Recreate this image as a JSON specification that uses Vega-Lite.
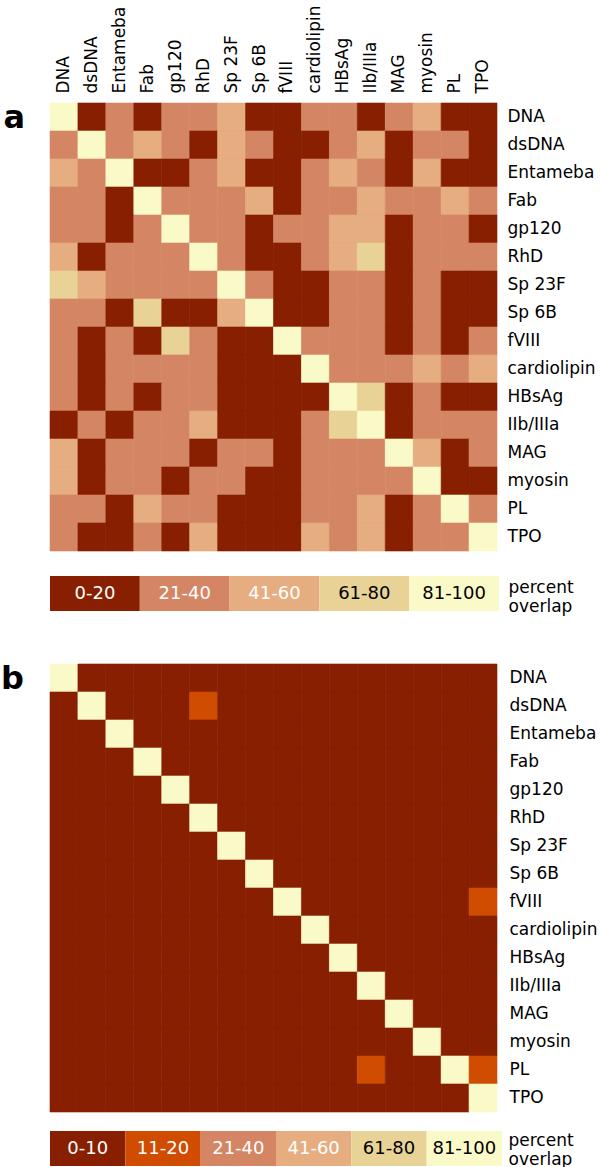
{
"$schema": "https://vega.github.io/schema/vega-lite/v6.json",
"background": "white",
"padding": {"left": 0, "top": 4, "right": 0, "bottom": 0},
"config": {"view": {"stroke": null}, "font": "DejaVu Sans", "axis": {"labelFont": "DejaVu Sans", "labelColor": "black"}},
"resolve": {"scale": {"color": "independent", "stroke": "independent"}},
"datasets": {
"a": [
{"r":"DNA","c":"DNA","p":"81-100"},{"r":"DNA","c":"dsDNA","p":"0-20"},{"r":"DNA","c":"Entameba","p":"21-40"},{"r":"DNA","c":"Fab","p":"0-20"},{"r":"DNA","c":"gp120","p":"21-40"},{"r":"DNA","c":"RhD","p":"21-40"},{"r":"DNA","c":"Sp 23F","p":"41-60"},{"r":"DNA","c":"Sp 6B","p":"0-20"},{"r":"DNA","c":"fVIII","p":"0-20"},{"r":"DNA","c":"cardiolipin","p":"21-40"},{"r":"DNA","c":"HBsAg","p":"21-40"},{"r":"DNA","c":"IIb/IIIa","p":"0-20"},{"r":"DNA","c":"MAG","p":"21-40"},{"r":"DNA","c":"myosin","p":"41-60"},{"r":"DNA","c":"PL","p":"0-20"},{"r":"DNA","c":"TPO","p":"0-20"},
{"r":"dsDNA","c":"DNA","p":"21-40"},{"r":"dsDNA","c":"dsDNA","p":"81-100"},{"r":"dsDNA","c":"Entameba","p":"21-40"},{"r":"dsDNA","c":"Fab","p":"41-60"},{"r":"dsDNA","c":"gp120","p":"21-40"},{"r":"dsDNA","c":"RhD","p":"0-20"},{"r":"dsDNA","c":"Sp 23F","p":"41-60"},{"r":"dsDNA","c":"Sp 6B","p":"21-40"},{"r":"dsDNA","c":"fVIII","p":"0-20"},{"r":"dsDNA","c":"cardiolipin","p":"0-20"},{"r":"dsDNA","c":"HBsAg","p":"21-40"},{"r":"dsDNA","c":"IIb/IIIa","p":"41-60"},{"r":"dsDNA","c":"MAG","p":"0-20"},{"r":"dsDNA","c":"myosin","p":"21-40"},{"r":"dsDNA","c":"PL","p":"21-40"},{"r":"dsDNA","c":"TPO","p":"0-20"},
{"r":"Entameba","c":"DNA","p":"41-60"},{"r":"Entameba","c":"dsDNA","p":"21-40"},{"r":"Entameba","c":"Entameba","p":"81-100"},{"r":"Entameba","c":"Fab","p":"0-20"},{"r":"Entameba","c":"gp120","p":"0-20"},{"r":"Entameba","c":"RhD","p":"21-40"},{"r":"Entameba","c":"Sp 23F","p":"41-60"},{"r":"Entameba","c":"Sp 6B","p":"0-20"},{"r":"Entameba","c":"fVIII","p":"0-20"},{"r":"Entameba","c":"cardiolipin","p":"21-40"},{"r":"Entameba","c":"HBsAg","p":"41-60"},{"r":"Entameba","c":"IIb/IIIa","p":"21-40"},{"r":"Entameba","c":"MAG","p":"0-20"},{"r":"Entameba","c":"myosin","p":"41-60"},{"r":"Entameba","c":"PL","p":"0-20"},{"r":"Entameba","c":"TPO","p":"0-20"},
{"r":"Fab","c":"DNA","p":"21-40"},{"r":"Fab","c":"dsDNA","p":"21-40"},{"r":"Fab","c":"Entameba","p":"0-20"},{"r":"Fab","c":"Fab","p":"81-100"},{"r":"Fab","c":"gp120","p":"21-40"},{"r":"Fab","c":"RhD","p":"21-40"},{"r":"Fab","c":"Sp 23F","p":"21-40"},{"r":"Fab","c":"Sp 6B","p":"41-60"},{"r":"Fab","c":"fVIII","p":"0-20"},{"r":"Fab","c":"cardiolipin","p":"21-40"},{"r":"Fab","c":"HBsAg","p":"21-40"},{"r":"Fab","c":"IIb/IIIa","p":"41-60"},{"r":"Fab","c":"MAG","p":"21-40"},{"r":"Fab","c":"myosin","p":"21-40"},{"r":"Fab","c":"PL","p":"41-60"},{"r":"Fab","c":"TPO","p":"21-40"},
{"r":"gp120","c":"DNA","p":"21-40"},{"r":"gp120","c":"dsDNA","p":"21-40"},{"r":"gp120","c":"Entameba","p":"0-20"},{"r":"gp120","c":"Fab","p":"21-40"},{"r":"gp120","c":"gp120","p":"81-100"},{"r":"gp120","c":"RhD","p":"21-40"},{"r":"gp120","c":"Sp 23F","p":"21-40"},{"r":"gp120","c":"Sp 6B","p":"0-20"},{"r":"gp120","c":"fVIII","p":"21-40"},{"r":"gp120","c":"cardiolipin","p":"21-40"},{"r":"gp120","c":"HBsAg","p":"41-60"},{"r":"gp120","c":"IIb/IIIa","p":"41-60"},{"r":"gp120","c":"MAG","p":"0-20"},{"r":"gp120","c":"myosin","p":"21-40"},{"r":"gp120","c":"PL","p":"21-40"},{"r":"gp120","c":"TPO","p":"0-20"},
{"r":"RhD","c":"DNA","p":"41-60"},{"r":"RhD","c":"dsDNA","p":"0-20"},{"r":"RhD","c":"Entameba","p":"21-40"},{"r":"RhD","c":"Fab","p":"21-40"},{"r":"RhD","c":"gp120","p":"21-40"},{"r":"RhD","c":"RhD","p":"81-100"},{"r":"RhD","c":"Sp 23F","p":"21-40"},{"r":"RhD","c":"Sp 6B","p":"0-20"},{"r":"RhD","c":"fVIII","p":"0-20"},{"r":"RhD","c":"cardiolipin","p":"21-40"},{"r":"RhD","c":"HBsAg","p":"41-60"},{"r":"RhD","c":"IIb/IIIa","p":"61-80"},{"r":"RhD","c":"MAG","p":"0-20"},{"r":"RhD","c":"myosin","p":"21-40"},{"r":"RhD","c":"PL","p":"21-40"},{"r":"RhD","c":"TPO","p":"21-40"},
{"r":"Sp 23F","c":"DNA","p":"61-80"},{"r":"Sp 23F","c":"dsDNA","p":"41-60"},{"r":"Sp 23F","c":"Entameba","p":"21-40"},{"r":"Sp 23F","c":"Fab","p":"21-40"},{"r":"Sp 23F","c":"gp120","p":"21-40"},{"r":"Sp 23F","c":"RhD","p":"21-40"},{"r":"Sp 23F","c":"Sp 23F","p":"81-100"},{"r":"Sp 23F","c":"Sp 6B","p":"21-40"},{"r":"Sp 23F","c":"fVIII","p":"0-20"},{"r":"Sp 23F","c":"cardiolipin","p":"0-20"},{"r":"Sp 23F","c":"HBsAg","p":"21-40"},{"r":"Sp 23F","c":"IIb/IIIa","p":"21-40"},{"r":"Sp 23F","c":"MAG","p":"0-20"},{"r":"Sp 23F","c":"myosin","p":"21-40"},{"r":"Sp 23F","c":"PL","p":"0-20"},{"r":"Sp 23F","c":"TPO","p":"0-20"},
{"r":"Sp 6B","c":"DNA","p":"21-40"},{"r":"Sp 6B","c":"dsDNA","p":"21-40"},{"r":"Sp 6B","c":"Entameba","p":"0-20"},{"r":"Sp 6B","c":"Fab","p":"61-80"},{"r":"Sp 6B","c":"gp120","p":"0-20"},{"r":"Sp 6B","c":"RhD","p":"0-20"},{"r":"Sp 6B","c":"Sp 23F","p":"41-60"},{"r":"Sp 6B","c":"Sp 6B","p":"81-100"},{"r":"Sp 6B","c":"fVIII","p":"0-20"},{"r":"Sp 6B","c":"cardiolipin","p":"0-20"},{"r":"Sp 6B","c":"HBsAg","p":"21-40"},{"r":"Sp 6B","c":"IIb/IIIa","p":"21-40"},{"r":"Sp 6B","c":"MAG","p":"0-20"},{"r":"Sp 6B","c":"myosin","p":"21-40"},{"r":"Sp 6B","c":"PL","p":"0-20"},{"r":"Sp 6B","c":"TPO","p":"0-20"},
{"r":"fVIII","c":"DNA","p":"21-40"},{"r":"fVIII","c":"dsDNA","p":"0-20"},{"r":"fVIII","c":"Entameba","p":"21-40"},{"r":"fVIII","c":"Fab","p":"0-20"},{"r":"fVIII","c":"gp120","p":"61-80"},{"r":"fVIII","c":"RhD","p":"21-40"},{"r":"fVIII","c":"Sp 23F","p":"0-20"},{"r":"fVIII","c":"Sp 6B","p":"0-20"},{"r":"fVIII","c":"fVIII","p":"81-100"},{"r":"fVIII","c":"cardiolipin","p":"21-40"},{"r":"fVIII","c":"HBsAg","p":"21-40"},{"r":"fVIII","c":"IIb/IIIa","p":"21-40"},{"r":"fVIII","c":"MAG","p":"0-20"},{"r":"fVIII","c":"myosin","p":"21-40"},{"r":"fVIII","c":"PL","p":"0-20"},{"r":"fVIII","c":"TPO","p":"21-40"},
{"r":"cardiolipin","c":"DNA","p":"21-40"},{"r":"cardiolipin","c":"dsDNA","p":"0-20"},{"r":"cardiolipin","c":"Entameba","p":"21-40"},{"r":"cardiolipin","c":"Fab","p":"21-40"},{"r":"cardiolipin","c":"gp120","p":"21-40"},{"r":"cardiolipin","c":"RhD","p":"21-40"},{"r":"cardiolipin","c":"Sp 23F","p":"0-20"},{"r":"cardiolipin","c":"Sp 6B","p":"0-20"},{"r":"cardiolipin","c":"fVIII","p":"0-20"},{"r":"cardiolipin","c":"cardiolipin","p":"81-100"},{"r":"cardiolipin","c":"HBsAg","p":"21-40"},{"r":"cardiolipin","c":"IIb/IIIa","p":"21-40"},{"r":"cardiolipin","c":"MAG","p":"21-40"},{"r":"cardiolipin","c":"myosin","p":"41-60"},{"r":"cardiolipin","c":"PL","p":"21-40"},{"r":"cardiolipin","c":"TPO","p":"41-60"},
{"r":"HBsAg","c":"DNA","p":"21-40"},{"r":"HBsAg","c":"dsDNA","p":"0-20"},{"r":"HBsAg","c":"Entameba","p":"21-40"},{"r":"HBsAg","c":"Fab","p":"0-20"},{"r":"HBsAg","c":"gp120","p":"21-40"},{"r":"HBsAg","c":"RhD","p":"21-40"},{"r":"HBsAg","c":"Sp 23F","p":"0-20"},{"r":"HBsAg","c":"Sp 6B","p":"0-20"},{"r":"HBsAg","c":"fVIII","p":"0-20"},{"r":"HBsAg","c":"cardiolipin","p":"0-20"},{"r":"HBsAg","c":"HBsAg","p":"81-100"},{"r":"HBsAg","c":"IIb/IIIa","p":"61-80"},{"r":"HBsAg","c":"MAG","p":"0-20"},{"r":"HBsAg","c":"myosin","p":"21-40"},{"r":"HBsAg","c":"PL","p":"0-20"},{"r":"HBsAg","c":"TPO","p":"0-20"},
{"r":"IIb/IIIa","c":"DNA","p":"0-20"},{"r":"IIb/IIIa","c":"dsDNA","p":"21-40"},{"r":"IIb/IIIa","c":"Entameba","p":"0-20"},{"r":"IIb/IIIa","c":"Fab","p":"21-40"},{"r":"IIb/IIIa","c":"gp120","p":"21-40"},{"r":"IIb/IIIa","c":"RhD","p":"41-60"},{"r":"IIb/IIIa","c":"Sp 23F","p":"0-20"},{"r":"IIb/IIIa","c":"Sp 6B","p":"0-20"},{"r":"IIb/IIIa","c":"fVIII","p":"0-20"},{"r":"IIb/IIIa","c":"cardiolipin","p":"21-40"},{"r":"IIb/IIIa","c":"HBsAg","p":"61-80"},{"r":"IIb/IIIa","c":"IIb/IIIa","p":"81-100"},{"r":"IIb/IIIa","c":"MAG","p":"0-20"},{"r":"IIb/IIIa","c":"myosin","p":"21-40"},{"r":"IIb/IIIa","c":"PL","p":"21-40"},{"r":"IIb/IIIa","c":"TPO","p":"21-40"},
{"r":"MAG","c":"DNA","p":"41-60"},{"r":"MAG","c":"dsDNA","p":"0-20"},{"r":"MAG","c":"Entameba","p":"21-40"},{"r":"MAG","c":"Fab","p":"21-40"},{"r":"MAG","c":"gp120","p":"21-40"},{"r":"MAG","c":"RhD","p":"0-20"},{"r":"MAG","c":"Sp 23F","p":"21-40"},{"r":"MAG","c":"Sp 6B","p":"21-40"},{"r":"MAG","c":"fVIII","p":"0-20"},{"r":"MAG","c":"cardiolipin","p":"21-40"},{"r":"MAG","c":"HBsAg","p":"21-40"},{"r":"MAG","c":"IIb/IIIa","p":"21-40"},{"r":"MAG","c":"MAG","p":"81-100"},{"r":"MAG","c":"myosin","p":"41-60"},{"r":"MAG","c":"PL","p":"0-20"},{"r":"MAG","c":"TPO","p":"21-40"},
{"r":"myosin","c":"DNA","p":"41-60"},{"r":"myosin","c":"dsDNA","p":"0-20"},{"r":"myosin","c":"Entameba","p":"21-40"},{"r":"myosin","c":"Fab","p":"21-40"},{"r":"myosin","c":"gp120","p":"0-20"},{"r":"myosin","c":"RhD","p":"21-40"},{"r":"myosin","c":"Sp 23F","p":"21-40"},{"r":"myosin","c":"Sp 6B","p":"0-20"},{"r":"myosin","c":"fVIII","p":"0-20"},{"r":"myosin","c":"cardiolipin","p":"21-40"},{"r":"myosin","c":"HBsAg","p":"21-40"},{"r":"myosin","c":"IIb/IIIa","p":"21-40"},{"r":"myosin","c":"MAG","p":"21-40"},{"r":"myosin","c":"myosin","p":"81-100"},{"r":"myosin","c":"PL","p":"0-20"},{"r":"myosin","c":"TPO","p":"0-20"},
{"r":"PL","c":"DNA","p":"21-40"},{"r":"PL","c":"dsDNA","p":"21-40"},{"r":"PL","c":"Entameba","p":"0-20"},{"r":"PL","c":"Fab","p":"41-60"},{"r":"PL","c":"gp120","p":"21-40"},{"r":"PL","c":"RhD","p":"21-40"},{"r":"PL","c":"Sp 23F","p":"0-20"},{"r":"PL","c":"Sp 6B","p":"0-20"},{"r":"PL","c":"fVIII","p":"0-20"},{"r":"PL","c":"cardiolipin","p":"21-40"},{"r":"PL","c":"HBsAg","p":"21-40"},{"r":"PL","c":"IIb/IIIa","p":"41-60"},{"r":"PL","c":"MAG","p":"0-20"},{"r":"PL","c":"myosin","p":"21-40"},{"r":"PL","c":"PL","p":"81-100"},{"r":"PL","c":"TPO","p":"21-40"},
{"r":"TPO","c":"DNA","p":"21-40"},{"r":"TPO","c":"dsDNA","p":"0-20"},{"r":"TPO","c":"Entameba","p":"0-20"},{"r":"TPO","c":"Fab","p":"21-40"},{"r":"TPO","c":"gp120","p":"0-20"},{"r":"TPO","c":"RhD","p":"41-60"},{"r":"TPO","c":"Sp 23F","p":"0-20"},{"r":"TPO","c":"Sp 6B","p":"0-20"},{"r":"TPO","c":"fVIII","p":"0-20"},{"r":"TPO","c":"cardiolipin","p":"41-60"},{"r":"TPO","c":"HBsAg","p":"21-40"},{"r":"TPO","c":"IIb/IIIa","p":"41-60"},{"r":"TPO","c":"MAG","p":"0-20"},{"r":"TPO","c":"myosin","p":"21-40"},{"r":"TPO","c":"PL","p":"21-40"},{"r":"TPO","c":"TPO","p":"81-100"}
],
"b": [
{"r":"DNA","c":"DNA","p":"81-100"},{"r":"DNA","c":"dsDNA","p":"0-10"},{"r":"DNA","c":"Entameba","p":"0-10"},{"r":"DNA","c":"Fab","p":"0-10"},{"r":"DNA","c":"gp120","p":"0-10"},{"r":"DNA","c":"RhD","p":"0-10"},{"r":"DNA","c":"Sp 23F","p":"0-10"},{"r":"DNA","c":"Sp 6B","p":"0-10"},{"r":"DNA","c":"fVIII","p":"0-10"},{"r":"DNA","c":"cardiolipin","p":"0-10"},{"r":"DNA","c":"HBsAg","p":"0-10"},{"r":"DNA","c":"IIb/IIIa","p":"0-10"},{"r":"DNA","c":"MAG","p":"0-10"},{"r":"DNA","c":"myosin","p":"0-10"},{"r":"DNA","c":"PL","p":"0-10"},{"r":"DNA","c":"TPO","p":"0-10"},
{"r":"dsDNA","c":"DNA","p":"0-10"},{"r":"dsDNA","c":"dsDNA","p":"81-100"},{"r":"dsDNA","c":"Entameba","p":"0-10"},{"r":"dsDNA","c":"Fab","p":"0-10"},{"r":"dsDNA","c":"gp120","p":"0-10"},{"r":"dsDNA","c":"RhD","p":"11-20"},{"r":"dsDNA","c":"Sp 23F","p":"0-10"},{"r":"dsDNA","c":"Sp 6B","p":"0-10"},{"r":"dsDNA","c":"fVIII","p":"0-10"},{"r":"dsDNA","c":"cardiolipin","p":"0-10"},{"r":"dsDNA","c":"HBsAg","p":"0-10"},{"r":"dsDNA","c":"IIb/IIIa","p":"0-10"},{"r":"dsDNA","c":"MAG","p":"0-10"},{"r":"dsDNA","c":"myosin","p":"0-10"},{"r":"dsDNA","c":"PL","p":"0-10"},{"r":"dsDNA","c":"TPO","p":"0-10"},
{"r":"Entameba","c":"DNA","p":"0-10"},{"r":"Entameba","c":"dsDNA","p":"0-10"},{"r":"Entameba","c":"Entameba","p":"81-100"},{"r":"Entameba","c":"Fab","p":"0-10"},{"r":"Entameba","c":"gp120","p":"0-10"},{"r":"Entameba","c":"RhD","p":"0-10"},{"r":"Entameba","c":"Sp 23F","p":"0-10"},{"r":"Entameba","c":"Sp 6B","p":"0-10"},{"r":"Entameba","c":"fVIII","p":"0-10"},{"r":"Entameba","c":"cardiolipin","p":"0-10"},{"r":"Entameba","c":"HBsAg","p":"0-10"},{"r":"Entameba","c":"IIb/IIIa","p":"0-10"},{"r":"Entameba","c":"MAG","p":"0-10"},{"r":"Entameba","c":"myosin","p":"0-10"},{"r":"Entameba","c":"PL","p":"0-10"},{"r":"Entameba","c":"TPO","p":"0-10"},
{"r":"Fab","c":"DNA","p":"0-10"},{"r":"Fab","c":"dsDNA","p":"0-10"},{"r":"Fab","c":"Entameba","p":"0-10"},{"r":"Fab","c":"Fab","p":"81-100"},{"r":"Fab","c":"gp120","p":"0-10"},{"r":"Fab","c":"RhD","p":"0-10"},{"r":"Fab","c":"Sp 23F","p":"0-10"},{"r":"Fab","c":"Sp 6B","p":"0-10"},{"r":"Fab","c":"fVIII","p":"0-10"},{"r":"Fab","c":"cardiolipin","p":"0-10"},{"r":"Fab","c":"HBsAg","p":"0-10"},{"r":"Fab","c":"IIb/IIIa","p":"0-10"},{"r":"Fab","c":"MAG","p":"0-10"},{"r":"Fab","c":"myosin","p":"0-10"},{"r":"Fab","c":"PL","p":"0-10"},{"r":"Fab","c":"TPO","p":"0-10"},
{"r":"gp120","c":"DNA","p":"0-10"},{"r":"gp120","c":"dsDNA","p":"0-10"},{"r":"gp120","c":"Entameba","p":"0-10"},{"r":"gp120","c":"Fab","p":"0-10"},{"r":"gp120","c":"gp120","p":"81-100"},{"r":"gp120","c":"RhD","p":"0-10"},{"r":"gp120","c":"Sp 23F","p":"0-10"},{"r":"gp120","c":"Sp 6B","p":"0-10"},{"r":"gp120","c":"fVIII","p":"0-10"},{"r":"gp120","c":"cardiolipin","p":"0-10"},{"r":"gp120","c":"HBsAg","p":"0-10"},{"r":"gp120","c":"IIb/IIIa","p":"0-10"},{"r":"gp120","c":"MAG","p":"0-10"},{"r":"gp120","c":"myosin","p":"0-10"},{"r":"gp120","c":"PL","p":"0-10"},{"r":"gp120","c":"TPO","p":"0-10"},
{"r":"RhD","c":"DNA","p":"0-10"},{"r":"RhD","c":"dsDNA","p":"0-10"},{"r":"RhD","c":"Entameba","p":"0-10"},{"r":"RhD","c":"Fab","p":"0-10"},{"r":"RhD","c":"gp120","p":"0-10"},{"r":"RhD","c":"RhD","p":"81-100"},{"r":"RhD","c":"Sp 23F","p":"0-10"},{"r":"RhD","c":"Sp 6B","p":"0-10"},{"r":"RhD","c":"fVIII","p":"0-10"},{"r":"RhD","c":"cardiolipin","p":"0-10"},{"r":"RhD","c":"HBsAg","p":"0-10"},{"r":"RhD","c":"IIb/IIIa","p":"0-10"},{"r":"RhD","c":"MAG","p":"0-10"},{"r":"RhD","c":"myosin","p":"0-10"},{"r":"RhD","c":"PL","p":"0-10"},{"r":"RhD","c":"TPO","p":"0-10"},
{"r":"Sp 23F","c":"DNA","p":"0-10"},{"r":"Sp 23F","c":"dsDNA","p":"0-10"},{"r":"Sp 23F","c":"Entameba","p":"0-10"},{"r":"Sp 23F","c":"Fab","p":"0-10"},{"r":"Sp 23F","c":"gp120","p":"0-10"},{"r":"Sp 23F","c":"RhD","p":"0-10"},{"r":"Sp 23F","c":"Sp 23F","p":"81-100"},{"r":"Sp 23F","c":"Sp 6B","p":"0-10"},{"r":"Sp 23F","c":"fVIII","p":"0-10"},{"r":"Sp 23F","c":"cardiolipin","p":"0-10"},{"r":"Sp 23F","c":"HBsAg","p":"0-10"},{"r":"Sp 23F","c":"IIb/IIIa","p":"0-10"},{"r":"Sp 23F","c":"MAG","p":"0-10"},{"r":"Sp 23F","c":"myosin","p":"0-10"},{"r":"Sp 23F","c":"PL","p":"0-10"},{"r":"Sp 23F","c":"TPO","p":"0-10"},
{"r":"Sp 6B","c":"DNA","p":"0-10"},{"r":"Sp 6B","c":"dsDNA","p":"0-10"},{"r":"Sp 6B","c":"Entameba","p":"0-10"},{"r":"Sp 6B","c":"Fab","p":"0-10"},{"r":"Sp 6B","c":"gp120","p":"0-10"},{"r":"Sp 6B","c":"RhD","p":"0-10"},{"r":"Sp 6B","c":"Sp 23F","p":"0-10"},{"r":"Sp 6B","c":"Sp 6B","p":"81-100"},{"r":"Sp 6B","c":"fVIII","p":"0-10"},{"r":"Sp 6B","c":"cardiolipin","p":"0-10"},{"r":"Sp 6B","c":"HBsAg","p":"0-10"},{"r":"Sp 6B","c":"IIb/IIIa","p":"0-10"},{"r":"Sp 6B","c":"MAG","p":"0-10"},{"r":"Sp 6B","c":"myosin","p":"0-10"},{"r":"Sp 6B","c":"PL","p":"0-10"},{"r":"Sp 6B","c":"TPO","p":"0-10"},
{"r":"fVIII","c":"DNA","p":"0-10"},{"r":"fVIII","c":"dsDNA","p":"0-10"},{"r":"fVIII","c":"Entameba","p":"0-10"},{"r":"fVIII","c":"Fab","p":"0-10"},{"r":"fVIII","c":"gp120","p":"0-10"},{"r":"fVIII","c":"RhD","p":"0-10"},{"r":"fVIII","c":"Sp 23F","p":"0-10"},{"r":"fVIII","c":"Sp 6B","p":"0-10"},{"r":"fVIII","c":"fVIII","p":"81-100"},{"r":"fVIII","c":"cardiolipin","p":"0-10"},{"r":"fVIII","c":"HBsAg","p":"0-10"},{"r":"fVIII","c":"IIb/IIIa","p":"0-10"},{"r":"fVIII","c":"MAG","p":"0-10"},{"r":"fVIII","c":"myosin","p":"0-10"},{"r":"fVIII","c":"PL","p":"0-10"},{"r":"fVIII","c":"TPO","p":"11-20"},
{"r":"cardiolipin","c":"DNA","p":"0-10"},{"r":"cardiolipin","c":"dsDNA","p":"0-10"},{"r":"cardiolipin","c":"Entameba","p":"0-10"},{"r":"cardiolipin","c":"Fab","p":"0-10"},{"r":"cardiolipin","c":"gp120","p":"0-10"},{"r":"cardiolipin","c":"RhD","p":"0-10"},{"r":"cardiolipin","c":"Sp 23F","p":"0-10"},{"r":"cardiolipin","c":"Sp 6B","p":"0-10"},{"r":"cardiolipin","c":"fVIII","p":"0-10"},{"r":"cardiolipin","c":"cardiolipin","p":"81-100"},{"r":"cardiolipin","c":"HBsAg","p":"0-10"},{"r":"cardiolipin","c":"IIb/IIIa","p":"0-10"},{"r":"cardiolipin","c":"MAG","p":"0-10"},{"r":"cardiolipin","c":"myosin","p":"0-10"},{"r":"cardiolipin","c":"PL","p":"0-10"},{"r":"cardiolipin","c":"TPO","p":"0-10"},
{"r":"HBsAg","c":"DNA","p":"0-10"},{"r":"HBsAg","c":"dsDNA","p":"0-10"},{"r":"HBsAg","c":"Entameba","p":"0-10"},{"r":"HBsAg","c":"Fab","p":"0-10"},{"r":"HBsAg","c":"gp120","p":"0-10"},{"r":"HBsAg","c":"RhD","p":"0-10"},{"r":"HBsAg","c":"Sp 23F","p":"0-10"},{"r":"HBsAg","c":"Sp 6B","p":"0-10"},{"r":"HBsAg","c":"fVIII","p":"0-10"},{"r":"HBsAg","c":"cardiolipin","p":"0-10"},{"r":"HBsAg","c":"HBsAg","p":"81-100"},{"r":"HBsAg","c":"IIb/IIIa","p":"0-10"},{"r":"HBsAg","c":"MAG","p":"0-10"},{"r":"HBsAg","c":"myosin","p":"0-10"},{"r":"HBsAg","c":"PL","p":"0-10"},{"r":"HBsAg","c":"TPO","p":"0-10"},
{"r":"IIb/IIIa","c":"DNA","p":"0-10"},{"r":"IIb/IIIa","c":"dsDNA","p":"0-10"},{"r":"IIb/IIIa","c":"Entameba","p":"0-10"},{"r":"IIb/IIIa","c":"Fab","p":"0-10"},{"r":"IIb/IIIa","c":"gp120","p":"0-10"},{"r":"IIb/IIIa","c":"RhD","p":"0-10"},{"r":"IIb/IIIa","c":"Sp 23F","p":"0-10"},{"r":"IIb/IIIa","c":"Sp 6B","p":"0-10"},{"r":"IIb/IIIa","c":"fVIII","p":"0-10"},{"r":"IIb/IIIa","c":"cardiolipin","p":"0-10"},{"r":"IIb/IIIa","c":"HBsAg","p":"0-10"},{"r":"IIb/IIIa","c":"IIb/IIIa","p":"81-100"},{"r":"IIb/IIIa","c":"MAG","p":"0-10"},{"r":"IIb/IIIa","c":"myosin","p":"0-10"},{"r":"IIb/IIIa","c":"PL","p":"0-10"},{"r":"IIb/IIIa","c":"TPO","p":"0-10"},
{"r":"MAG","c":"DNA","p":"0-10"},{"r":"MAG","c":"dsDNA","p":"0-10"},{"r":"MAG","c":"Entameba","p":"0-10"},{"r":"MAG","c":"Fab","p":"0-10"},{"r":"MAG","c":"gp120","p":"0-10"},{"r":"MAG","c":"RhD","p":"0-10"},{"r":"MAG","c":"Sp 23F","p":"0-10"},{"r":"MAG","c":"Sp 6B","p":"0-10"},{"r":"MAG","c":"fVIII","p":"0-10"},{"r":"MAG","c":"cardiolipin","p":"0-10"},{"r":"MAG","c":"HBsAg","p":"0-10"},{"r":"MAG","c":"IIb/IIIa","p":"0-10"},{"r":"MAG","c":"MAG","p":"81-100"},{"r":"MAG","c":"myosin","p":"0-10"},{"r":"MAG","c":"PL","p":"0-10"},{"r":"MAG","c":"TPO","p":"0-10"},
{"r":"myosin","c":"DNA","p":"0-10"},{"r":"myosin","c":"dsDNA","p":"0-10"},{"r":"myosin","c":"Entameba","p":"0-10"},{"r":"myosin","c":"Fab","p":"0-10"},{"r":"myosin","c":"gp120","p":"0-10"},{"r":"myosin","c":"RhD","p":"0-10"},{"r":"myosin","c":"Sp 23F","p":"0-10"},{"r":"myosin","c":"Sp 6B","p":"0-10"},{"r":"myosin","c":"fVIII","p":"0-10"},{"r":"myosin","c":"cardiolipin","p":"0-10"},{"r":"myosin","c":"HBsAg","p":"0-10"},{"r":"myosin","c":"IIb/IIIa","p":"0-10"},{"r":"myosin","c":"MAG","p":"0-10"},{"r":"myosin","c":"myosin","p":"81-100"},{"r":"myosin","c":"PL","p":"0-10"},{"r":"myosin","c":"TPO","p":"0-10"},
{"r":"PL","c":"DNA","p":"0-10"},{"r":"PL","c":"dsDNA","p":"0-10"},{"r":"PL","c":"Entameba","p":"0-10"},{"r":"PL","c":"Fab","p":"0-10"},{"r":"PL","c":"gp120","p":"0-10"},{"r":"PL","c":"RhD","p":"0-10"},{"r":"PL","c":"Sp 23F","p":"0-10"},{"r":"PL","c":"Sp 6B","p":"0-10"},{"r":"PL","c":"fVIII","p":"0-10"},{"r":"PL","c":"cardiolipin","p":"0-10"},{"r":"PL","c":"HBsAg","p":"0-10"},{"r":"PL","c":"IIb/IIIa","p":"11-20"},{"r":"PL","c":"MAG","p":"0-10"},{"r":"PL","c":"myosin","p":"0-10"},{"r":"PL","c":"PL","p":"81-100"},{"r":"PL","c":"TPO","p":"11-20"},
{"r":"TPO","c":"DNA","p":"0-10"},{"r":"TPO","c":"dsDNA","p":"0-10"},{"r":"TPO","c":"Entameba","p":"0-10"},{"r":"TPO","c":"Fab","p":"0-10"},{"r":"TPO","c":"gp120","p":"0-10"},{"r":"TPO","c":"RhD","p":"0-10"},{"r":"TPO","c":"Sp 23F","p":"0-10"},{"r":"TPO","c":"Sp 6B","p":"0-10"},{"r":"TPO","c":"fVIII","p":"0-10"},{"r":"TPO","c":"cardiolipin","p":"0-10"},{"r":"TPO","c":"HBsAg","p":"0-10"},{"r":"TPO","c":"IIb/IIIa","p":"0-10"},{"r":"TPO","c":"MAG","p":"0-10"},{"r":"TPO","c":"myosin","p":"0-10"},{"r":"TPO","c":"PL","p":"0-10"},{"r":"TPO","c":"TPO","p":"81-100"}
],
"la": [{"p":"0-20","k":"percent overlap"},{"p":"21-40","k":"percent overlap"},{"p":"41-60","k":"percent overlap"},{"p":"61-80","k":"percent overlap"},{"p":"81-100","k":"percent overlap"}],
"lb": [{"p":"0-10","k":"percent overlap"},{"p":"11-20","k":"percent overlap"},{"p":"21-40","k":"percent overlap"},{"p":"41-60","k":"percent overlap"},{"p":"61-80","k":"percent overlap"},{"p":"81-100","k":"percent overlap"}]
},
"spacing": 49,
"vconcat": [
{
"spacing": 25,
"bounds": "flush",
"resolve": {"scale": {"color": "independent", "stroke": "independent"}},
"vconcat": [
{
"width": 447, "height": 448,
"data": {"name": "a"},
"title": {"text": "a", "orient": "left", "anchor": "end", "frame": "group", "angle": 0, "align": "right", "baseline": "top", "fontSize": 32, "fontWeight": "bold", "font": "DejaVu Sans", "offset": 3, "color": "black"},
"mark": {"type": "rect", "strokeWidth": 0.6},
"encoding": {
"x": {"field": "c", "type": "nominal", "sort": ["DNA","dsDNA","Entameba","Fab","gp120","RhD","Sp 23F","Sp 6B","fVIII","cardiolipin","HBsAg","IIb/IIIa","MAG","myosin","PL","TPO"], "scale": {"paddingInner": 0, "paddingOuter": 0}, "axis": {"orient": "top", "title": null, "labelAngle": -90, "ticks": false, "domain": false, "labelFontSize": 17, "labelPadding": 10}},
"y": {"field": "r", "type": "nominal", "sort": ["DNA","dsDNA","Entameba","Fab","gp120","RhD","Sp 23F","Sp 6B","fVIII","cardiolipin","HBsAg","IIb/IIIa","MAG","myosin","PL","TPO"], "scale": {"paddingInner": 0, "paddingOuter": 0}, "axis": {"orient": "right", "title": null, "ticks": false, "domain": false, "labelFontSize": 17, "labelPadding": 10}},
"color": {"field": "p", "type": "nominal", "scale": {"domain": ["0-20","21-40","41-60","61-80","81-100"], "range": ["#871f00","#d48664","#e5ad80","#e8d296","#fafac8"]}, "legend": null},
"stroke": {"field": "p", "type": "nominal", "scale": {"domain": ["0-20","21-40","41-60","61-80","81-100"], "range": ["#871f00","#d48664","#e5ad80","#e8d296","#fafac8"]}, "legend": null}
}
},
{
"width": 449, "height": 35,
"data": {"name": "la"},
"encoding": {
"x": {"field": "p", "type": "nominal", "sort": null, "scale": {"paddingInner": 0, "paddingOuter": 0}, "axis": null},
"y": {"field": "k", "type": "nominal", "scale": {"paddingInner": 0, "paddingOuter": 0}, "axis": {"orient": "right", "title": null, "ticks": false, "domain": false, "labelFontSize": 17, "labelPadding": 9, "labelLineHeight": 19, "labelOffset": -6, "labelExpr": "split(datum.value, ' ')"}}
},
"layer": [
{"mark": {"type": "rect"}, "encoding": {"color": {"field": "p", "type": "nominal", "scale": {"domain": ["0-20","21-40","41-60","61-80","81-100"], "range": ["#871f00","#d48664","#e5ad80","#e8d296","#fafac8"]}, "legend": null}}},
{"mark": {"type": "text", "fontSize": 18, "font": "DejaVu Sans"}, "encoding": {"text": {"field": "p"}, "color": {"condition": {"test": "indexof(['0-20','21-40','41-60'], datum.p) >= 0", "value": "white"}, "value": "black"}}}
]
}
]
},
{
"spacing": 19,
"bounds": "flush",
"resolve": {"scale": {"color": "independent", "stroke": "independent"}},
"vconcat": [
{
"width": 447, "height": 448,
"data": {"name": "b"},
"title": {"text": "b", "orient": "left", "anchor": "end", "frame": "group", "angle": 0, "align": "right", "baseline": "top", "fontSize": 32, "fontWeight": "bold", "font": "DejaVu Sans", "offset": 3, "color": "black"},
"mark": {"type": "rect", "strokeWidth": 0.6},
"encoding": {
"x": {"field": "c", "type": "nominal", "sort": ["DNA","dsDNA","Entameba","Fab","gp120","RhD","Sp 23F","Sp 6B","fVIII","cardiolipin","HBsAg","IIb/IIIa","MAG","myosin","PL","TPO"], "scale": {"paddingInner": 0, "paddingOuter": 0}, "axis": null},
"y": {"field": "r", "type": "nominal", "sort": ["DNA","dsDNA","Entameba","Fab","gp120","RhD","Sp 23F","Sp 6B","fVIII","cardiolipin","HBsAg","IIb/IIIa","MAG","myosin","PL","TPO"], "scale": {"paddingInner": 0, "paddingOuter": 0}, "axis": {"orient": "right", "title": null, "ticks": false, "domain": false, "labelFontSize": 17, "labelPadding": 12}},
"color": {"field": "p", "type": "nominal", "scale": {"domain": ["0-10","11-20","21-40","41-60","61-80","81-100"], "range": ["#871f00","#d04c00","#d48664","#e5ad80","#e8d296","#fafac8"]}, "legend": null},
"stroke": {"field": "p", "type": "nominal", "scale": {"domain": ["0-10","11-20","21-40","41-60","61-80","81-100"], "range": ["#871f00","#d04c00","#d48664","#e5ad80","#e8d296","#fafac8"]}, "legend": null}
}
},
{
"width": 452, "height": 35,
"data": {"name": "lb"},
"encoding": {
"x": {"field": "p", "type": "nominal", "sort": null, "scale": {"paddingInner": 0, "paddingOuter": 0}, "axis": null},
"y": {"field": "k", "type": "nominal", "scale": {"paddingInner": 0, "paddingOuter": 0}, "axis": {"orient": "right", "title": null, "ticks": false, "domain": false, "labelFontSize": 17, "labelPadding": 6, "labelLineHeight": 19, "labelOffset": -8, "labelExpr": "split(datum.value, ' ')"}}
},
"layer": [
{"mark": {"type": "rect"}, "encoding": {"color": {"field": "p", "type": "nominal", "scale": {"domain": ["0-10","11-20","21-40","41-60","61-80","81-100"], "range": ["#871f00","#d04c00","#d48664","#e5ad80","#e8d296","#fafac8"]}, "legend": null}}},
{"mark": {"type": "text", "fontSize": 18, "font": "DejaVu Sans"}, "encoding": {"text": {"field": "p"}, "color": {"condition": {"test": "indexof(['0-10','11-20','21-40','41-60'], datum.p) >= 0", "value": "white"}, "value": "black"}}}
]
}
]
}
]
}
